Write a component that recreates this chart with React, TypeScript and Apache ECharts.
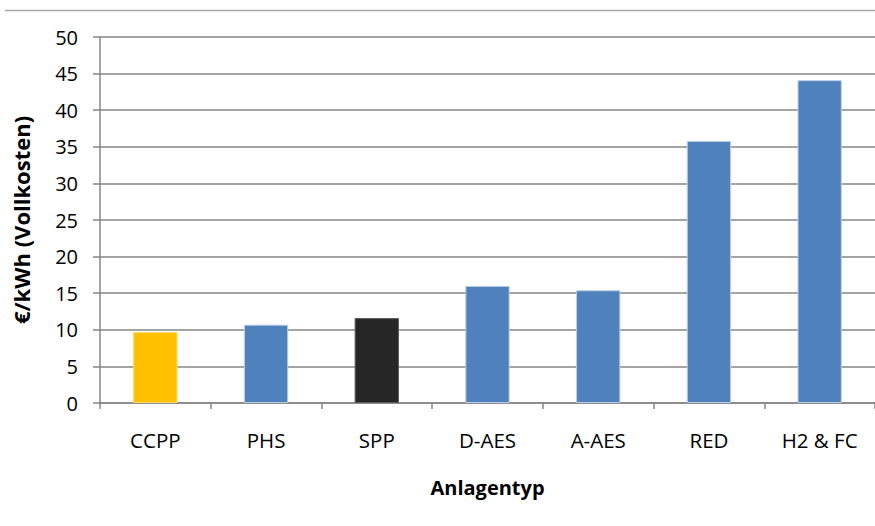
import React, { useEffect, useRef } from "react";
import * as echarts from "echarts";

const categories = ["CCPP", "PHS", "SPP", "D-AES", "A-AES", "RED", "H2 & FC"];
const values = [9.7, 10.7, 11.6, 16.0, 15.4, 35.8, 44.1];
const barColors = ["#FFC000", "#4F81BD", "#262626", "#4F81BD", "#4F81BD", "#4F81BD", "#4F81BD"];
const borderColors = ["#FFD966", "#B9CDE5", "#595959", "#B9CDE5", "#B9CDE5", "#B9CDE5", "#B9CDE5"];
const yAxisTitle = "€/kWh (Vollkosten)";
const xAxisTitle = "Anlagentyp";

const FONT = "'Open Sans', Lato, sans-serif";

export default function App() {
  const ref = useRef<HTMLDivElement>(null);
  useEffect(() => {
    if (!ref.current) return;
    const chart = echarts.init(ref.current, undefined, { renderer: "svg" });
    chart.setOption({
      animation: false,
      backgroundColor: "#ffffff",
      textStyle: { fontFamily: FONT },
      graphic: [
        {
          type: "line",
          shape: { x1: 5, y1: 10.5, x2: 875, y2: 10.5 },
          style: { stroke: "#A6A6A6", lineWidth: 1.5 },
        },
      ],
      grid: { left: 100, top: 37, width: 777, height: 366, containLabel: false },
      xAxis: {
        type: "category",
        data: categories,
        name: xAxisTitle,
        nameLocation: "middle",
        nameGap: 74,
        nameTextStyle: { fontSize: 20, fontWeight: "bold", color: "#000", fontFamily: FONT },
        axisLine: { lineStyle: { color: "#868686", width: 1.5 } },
        axisTick: { show: true, length: 6, lineStyle: { color: "#868686", width: 1.5 } },
        axisLabel: { fontSize: 20.5, color: "#000", margin: 26, fontFamily: FONT },
        splitLine: { show: false },
      },
      yAxis: {
        type: "value",
        min: 0,
        max: 50,
        interval: 5,
        name: yAxisTitle,
        nameLocation: "middle",
        nameGap: 68,
        nameRotate: 90,
        nameTextStyle: { fontSize: 22, fontWeight: "bold", color: "#000", fontFamily: FONT },
        axisLine: { show: true, lineStyle: { color: "#868686", width: 1.5 } },
        axisTick: { show: true, length: 7, lineStyle: { color: "#868686", width: 1.5 } },
        axisLabel: { fontSize: 20, color: "#000", margin: 22, fontFamily: FONT },
        splitLine: { show: true, lineStyle: { color: "#868686", width: 1.5 } },
      },
      series: [
        {
          type: "bar",
          barWidth: "40%",
          data: values.map((v, i) => ({
            value: v,
            itemStyle: { color: barColors[i], borderColor: borderColors[i], borderWidth: 1 },
          })),
        },
      ],
    });
    return () => chart.dispose();
  }, []);
  return (
    <div
      ref={ref}
      style={{ position: "absolute", left: 0, top: 0, width: 875, height: 526 }}
    />
  );
}
